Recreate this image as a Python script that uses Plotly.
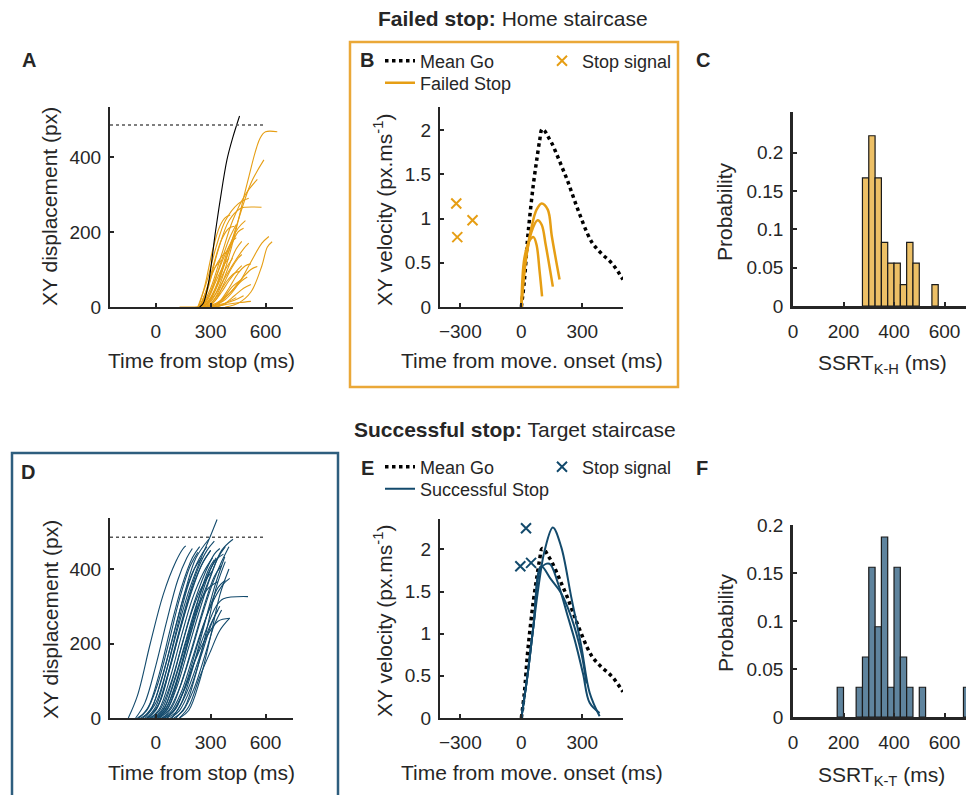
import plotly.graph_objects as go

# ---------------- DATA ----------------
# Panel A: failed-stop trajectories (time from stop, ms / displacement, px)
A_fail_t = [
    [130, 240, 300, 350, 420, 500, 570, 600, 664],
    [260, 320, 380, 450, 520, 591],
    [250, 300, 360, 420, 490, 555],
    [240, 290, 340, 400, 460, 490, 578],
    [230, 280, 330, 380, 450, 508],
    [235, 270, 310, 350, 380, 407],
    [300, 380, 450, 520, 580, 618],
    [380, 450, 520, 580, 610, 636],
    [270, 330, 400, 460, 520, 555],
    [260, 320, 380, 430, 480, 508],
    [250, 300, 350, 400, 440],
    [260, 320, 380, 430, 480],
    [280, 340, 400, 460, 520],
    [240, 280, 320, 360, 400, 430],
    [250, 290, 330, 370, 410, 440],
    [265, 300, 340, 380, 420],
    [245, 280, 310, 340, 370, 395],
    [280, 320, 360, 400, 440, 470],
    [300, 340, 380, 420, 460],
    [290, 330, 370, 410, 450, 470],
    [255, 290, 330, 370, 400],
    [310, 350, 400, 450, 490, 520],
    [320, 360, 400, 440],
    [260, 300, 350, 400, 450, 480],
    [270, 310, 350, 390, 430, 460],
    [275, 320, 360, 400, 450, 490],
    [300, 340, 380, 430, 470, 500],
    [285, 320, 360, 400, 440, 470],
    [240, 270, 300, 330, 360],
    [330, 380, 430, 480, 520],
]
A_fail_d = [
    [0, 2, 15, 60, 170, 330, 450, 467, 467],
    [0, 40, 120, 230, 330, 392],
    [0, 50, 140, 230, 300, 340],
    [0, 60, 150, 230, 262, 266, 266],
    [0, 70, 160, 230, 275, 290],
    [0, 60, 150, 215, 238, 245],
    [0, 20, 60, 120, 170, 188],
    [0, 10, 40, 110, 160, 174],
    [0, 10, 35, 70, 100, 108],
    [0, 30, 80, 120, 155, 170],
    [0, 40, 110, 180, 220],
    [0, 4, 10, 18, 30],
    [0, 3, 8, 12, 15],
    [0, 50, 120, 180, 210, 215],
    [0, 30, 80, 130, 170, 185],
    [0, 20, 60, 100, 130],
    [0, 40, 90, 120, 140, 150],
    [0, 15, 40, 70, 95, 110],
    [0, 10, 30, 55, 70],
    [0, 20, 60, 100, 130, 140],
    [0, 25, 70, 110, 130],
    [0, 15, 50, 90, 110, 115],
    [0, 5, 15, 25],
    [0, 25, 80, 150, 200, 210],
    [0, 15, 40, 70, 90, 95],
    [0, 40, 100, 160, 210, 230],
    [0, 8, 25, 50, 70, 80],
    [0, 20, 60, 110, 155, 175],
    [0, 35, 80, 110, 125],
    [0, 10, 30, 50, 60],
]
A_go_t = [240, 260, 288, 325, 352, 389, 420, 458]
A_go_d = [0, 10, 63, 196, 285, 392, 450, 509]

TARGET_X = [-250, 600]
TARGET_D = 485

# Panel D: successful-stop trajectories
D_succ_t = [
    [-150, -100, -30, 40, 110, 150, 164],
    [-110, -60, 0, 60, 120, 170, 200],
    [-90, -40, 20, 80, 140, 200, 240],
    [-70, -20, 40, 100, 160, 220, 290],
    [-60, 0, 60, 120, 180, 240, 300, 335],
    [-50, 0, 50, 110, 170, 230, 280, 320],
    [-40, 10, 70, 130, 190, 250, 300],
    [-30, 20, 80, 140, 200, 260, 310],
    [-20, 30, 90, 150, 210, 270, 320, 350],
    [-10, 40, 100, 160, 220, 280, 330, 370],
    [0, 50, 110, 170, 230, 290, 340, 380],
    [10, 60, 120, 180, 240, 300, 360, 422],
    [20, 70, 130, 190, 250, 310, 360, 400],
    [30, 80, 140, 200, 260, 320, 370, 404],
    [40, 90, 150, 210, 270, 330, 370, 504],
    [50, 100, 160, 220, 280, 340, 404],
    [60, 110, 170, 230, 290, 340],
    [-80, -30, 30, 90, 150, 210, 250],
    [0, 50, 110, 170, 230, 290, 340],
    [90, 140, 200, 260, 320, 377],
    [110, 160, 220, 280, 330, 380],
    [130, 180, 240, 300, 350, 400],
    [130, 180, 240, 300, 350, 404],
    [-40, 20, 80, 140, 200, 260, 300],
    [-100, -50, 10, 70, 130, 190, 230],
    [10, 60, 120, 180, 240, 290, 320],
    [40, 90, 150, 210, 270, 320, 360],
    [60, 110, 170, 230, 290, 340, 380],
    [80, 130, 190, 250, 310, 350],
    [-50, 0, 60, 120, 180, 240, 280],
    [20, 70, 130, 190, 250, 300, 330],
    [100, 150, 210, 270, 320, 360],
    [-30, 20, 80, 140, 200, 260, 310],
]
D_succ_d = [
    [0, 60, 200, 330, 420, 455, 462],
    [0, 40, 140, 260, 370, 430, 455],
    [0, 30, 120, 240, 350, 430, 460],
    [0, 30, 120, 230, 340, 430, 480],
    [0, 40, 130, 240, 340, 420, 490, 533],
    [0, 20, 90, 200, 310, 400, 450, 475],
    [0, 30, 120, 230, 330, 410, 450],
    [0, 25, 110, 220, 320, 390, 430],
    [0, 20, 100, 210, 310, 390, 440, 455],
    [0, 20, 100, 200, 300, 380, 425, 440],
    [0, 20, 90, 190, 290, 370, 430, 460],
    [0, 20, 90, 190, 290, 380, 450, 480],
    [0, 20, 80, 170, 270, 360, 420, 460],
    [0, 15, 70, 160, 250, 320, 360, 375],
    [0, 15, 70, 150, 230, 300, 320, 326],
    [0, 20, 80, 160, 220, 260, 268],
    [0, 15, 70, 150, 240, 290],
    [0, 20, 100, 210, 320, 400, 430],
    [0, 30, 110, 210, 300, 350, 366],
    [0, 40, 130, 240, 350, 433],
    [0, 30, 120, 240, 350, 420],
    [0, 20, 100, 220, 330, 400],
    [0, 30, 110, 180, 235, 268],
    [0, 40, 140, 250, 350, 420, 450],
    [0, 20, 90, 200, 320, 410, 445],
    [0, 30, 110, 220, 330, 400, 425],
    [0, 30, 110, 210, 310, 380, 410],
    [0, 25, 100, 200, 290, 350, 370],
    [0, 20, 80, 170, 260, 300],
    [0, 30, 130, 250, 360, 430, 460],
    [0, 30, 120, 230, 330, 400, 430],
    [0, 20, 80, 170, 250, 290],
    [0, 20, 90, 190, 290, 360, 395],
]

# Mean Go velocity (time from movement onset, ms / px.ms^-1)
go_vel_t = [0, 15, 30, 45, 60, 75, 90, 102, 115, 130, 150, 175, 200, 225, 250,
            275, 300, 325, 350, 375, 400, 425, 450, 475, 500]
go_vel_v = [0, 0.3, 0.75, 1.1, 1.4, 1.65, 1.88, 2.01, 1.99, 1.93, 1.85, 1.72, 1.58,
            1.44, 1.28, 1.12, 0.97, 0.83, 0.72, 0.65, 0.59, 0.54, 0.48, 0.4, 0.31]

# Panel B: failed stop velocities
B_fail_t = [
    [0, 20, 50, 75, 100, 130, 150, 188],
    [0, 20, 50, 80, 100, 120, 155],
    [0, 15, 40, 60, 75, 90, 102],
]
B_fail_v = [
    [0, 0.5, 0.9, 1.1, 1.17, 1.1, 0.8, 0.31],
    [0, 0.5, 0.85, 0.98, 0.93, 0.7, 0.23],
    [0, 0.55, 0.75, 0.79, 0.7, 0.4, 0.12],
]
B_stop_t = [-320, -315, -240]
B_stop_v = [1.17, 0.79, 0.98]

# Panel E: successful stop velocities
E_succ_t = [
    [0, 30, 60, 90, 114, 155, 196, 245, 295, 336, 385],
    [0, 30, 60, 97, 138, 180, 229, 262, 303, 336, 385],
    [0, 30, 60, 97, 147, 196, 245, 295, 320],
]
E_succ_v = [
    [0, 0.5, 1.1, 1.65, 1.98, 2.26, 2.03, 1.44, 0.85, 0.3, 0.02],
    [0, 0.5, 1.1, 1.78, 1.83, 1.6, 1.2, 0.93, 0.53, 0.18, 0.06],
    [0, 0.5, 1.1, 1.8, 1.64, 1.48, 1.2, 0.77, 0.41],
]
E_stop_t = [23, -5, 48]
E_stop_v = [2.25, 1.8, 1.84]

# Panel C / F: SSRT histograms (bin start, ms / probability)
BIN_W = 25
C_bins = [275, 300, 325, 350, 375, 400, 425, 450, 475, 550]
C_prob = [0.167, 0.222, 0.167, 0.083, 0.056, 0.056, 0.028, 0.083, 0.056, 0.028]
F_bins = [175, 250, 275, 300, 325, 350, 375, 400, 425, 450, 500, 675]
F_prob = [0.031, 0.031, 0.0625, 0.156, 0.094, 0.1875, 0.031, 0.156, 0.0625, 0.031, 0.031, 0.031]

# ---------------- STYLE ----------------
W, H = 966, 795
FONT = "Liberation Sans, Arial, Helvetica, sans-serif"
ORANGE = "#E69E14"
ORANGE_BOX = "#EAA838"
ORANGE_BAR = "#EDC066"
BLUE = "#134A6C"
BLUE_BOX = "#2E5E7E"
BLUE_BAR = "#5F849E"
AX = "#262626"
TICK_FS = 19
TITLE_FS = 21


def px_x(p):
    return p / W


def px_y(p):
    return 1 - p / H


fig = go.Figure()

# Panel A
for t, d in zip(A_fail_t, A_fail_d):
    fig.add_trace(go.Scatter(x=t, y=d, mode="lines", line=dict(color=ORANGE, width=1.1, shape="spline"),
                             showlegend=False, xaxis="x", yaxis="y", hoverinfo="skip"))
fig.add_trace(go.Scatter(x=A_go_t, y=A_go_d, mode="lines", line=dict(color="black", width=1.1, shape="spline"),
                         showlegend=False, xaxis="x", yaxis="y"))
fig.add_trace(go.Scatter(x=TARGET_X, y=[TARGET_D, TARGET_D], mode="lines",
                         line=dict(color="#555555", width=1.5, dash="dot"), showlegend=False, xaxis="x", yaxis="y"))

# Panel D
for t, d in zip(D_succ_t, D_succ_d):
    fig.add_trace(go.Scatter(x=t, y=d, mode="lines", line=dict(color=BLUE, width=1.1, shape="spline"),
                             showlegend=False, xaxis="x4", yaxis="y4", hoverinfo="skip"))
fig.add_trace(go.Scatter(x=TARGET_X, y=[TARGET_D, TARGET_D], mode="lines",
                         line=dict(color="#555555", width=1.5, dash="dot"), showlegend=False, xaxis="x4", yaxis="y4"))

# Panel B
fig.add_trace(go.Scatter(x=go_vel_t, y=go_vel_v, mode="lines", name="Mean Go",
                         line=dict(color="black", width=3.5, dash="dot", shape="spline"),
                         xaxis="x2", yaxis="y2", legend="legend"))
for i, (t, v) in enumerate(zip(B_fail_t, B_fail_v)):
    fig.add_trace(go.Scatter(x=t, y=v, mode="lines", name="Failed Stop", legendgroup="fs",
                             showlegend=(i == 0), line=dict(color=ORANGE, width=2.5, shape="spline"),
                             xaxis="x2", yaxis="y2", legend="legend3"))
fig.add_trace(go.Scatter(x=B_stop_t, y=B_stop_v, mode="markers", name="Stop signal",
                         marker=dict(symbol="x-thin", size=10, line=dict(color=ORANGE, width=2)),
                         xaxis="x2", yaxis="y2", legend="legend2"))

# Panel E
fig.add_trace(go.Scatter(x=go_vel_t, y=go_vel_v, mode="lines", name="Mean Go",
                         line=dict(color="black", width=3.5, dash="dot", shape="spline"),
                         xaxis="x5", yaxis="y5", legend="legend4"))
for i, (t, v) in enumerate(zip(E_succ_t, E_succ_v)):
    fig.add_trace(go.Scatter(x=t, y=v, mode="lines", name="Successful Stop", legendgroup="ss",
                             showlegend=(i == 0), line=dict(color=BLUE, width=2, shape="spline"),
                             xaxis="x5", yaxis="y5", legend="legend6"))
fig.add_trace(go.Scatter(x=E_stop_t, y=E_stop_v, mode="markers", name="Stop signal",
                         marker=dict(symbol="x-thin", size=10, line=dict(color=BLUE, width=2)),
                         xaxis="x5", yaxis="y5", legend="legend5"))

# Panel C / F histograms
fig.add_trace(go.Bar(x=[b + BIN_W / 2 for b in C_bins], y=C_prob, width=BIN_W,
                     marker=dict(color=ORANGE_BAR, line=dict(color="#1a1a1a", width=1.2)),
                     showlegend=False, xaxis="x3", yaxis="y3"))
fig.add_trace(go.Bar(x=[b + BIN_W / 2 for b in F_bins], y=F_prob, width=BIN_W,
                     marker=dict(color=BLUE_BAR, line=dict(color="#1a1a1a", width=1.2)),
                     showlegend=False, xaxis="x6", yaxis="y6"))


def axis(dom, rng, tickvals, ticktext=None, anchor=None, standoff=4, lw=2):
    d = dict(domain=dom, range=rng, tickvals=tickvals, showline=True, linecolor=AX, linewidth=lw,
             ticks="inside", ticklen=4, tickwidth=1.5, tickcolor=AX, showgrid=False, zeroline=False,
             tickfont=dict(size=TICK_FS, color=AX, family=FONT), anchor=anchor, fixedrange=True,
             ticklabelstandoff=standoff, automargin=False)
    if ticktext is not None:
        d["ticktext"] = ticktext
    return d


xA = [px_x(110), px_x(293)]
xB = [px_x(440), px_x(623)]
xC = [px_x(793), 1.0]
yTop = [px_y(307), px_y(107)]
yC = [px_y(306), px_y(112)]
yD = [px_y(718), px_y(518)]
yE = [px_y(718), px_y(519)]
yF = [px_y(717), px_y(525)]

vel_ticks = [0, 0.5, 1, 1.5, 2]
vel_text = ["0", "0.5", "1", "1.5", "2"]
prob_ticks = [0, 0.05, 0.1, 0.15, 0.2]
prob_text = ["0", "0.05", "0.1", "0.15", "0.2"]

XS, YS = 6, 3
leg_font = dict(size=18, family=FONT, color=AX)


def legend_at(x, y):
    return dict(x=px_x(x), y=px_y(y), xanchor="left", yanchor="middle", bgcolor="rgba(0,0,0,0)",
                font=leg_font, itemwidth=30, borderwidth=0)


fig.update_layout(
    template="none",
    autosize=False,
    width=W, height=H, margin=dict(l=0, r=0, t=0, b=0, autoexpand=False),
    paper_bgcolor="white", plot_bgcolor="white",
    font=dict(family=FONT, color=AX),
    barmode="overlay",
    xaxis=axis(xA, [-250, 750], [0, 300, 600], anchor="y", standoff=XS),
    yaxis=axis(yTop, [0, 533], [0, 200, 400], anchor="x", standoff=YS),
    xaxis2=axis(xB, [-400, 500], [-300, 0, 300], anchor="y2", standoff=XS),
    yaxis2=axis(yTop, [0, 2.26], vel_ticks, vel_text, anchor="x2", standoff=YS),
    xaxis3=axis(xC, [0, 685], [0, 200, 400, 600], anchor="y3", standoff=XS, lw=2.5),
    yaxis3=axis(yC, [0, 0.253], prob_ticks, prob_text, anchor="x3", standoff=YS, lw=2.5),
    xaxis4=axis(xA, [-250, 750], [0, 300, 600], anchor="y4", standoff=XS),
    yaxis4=axis(yD, [0, 537], [0, 200, 400], anchor="x4", standoff=YS),
    xaxis5=axis(xB, [-400, 500], [-300, 0, 300], anchor="y5", standoff=XS),
    yaxis5=axis(yE, [0, 2.36], vel_ticks, vel_text, anchor="x5", standoff=YS),
    xaxis6=axis(xC, [0, 685], [0, 200, 400, 600], anchor="y6", standoff=XS, lw=2.5),
    yaxis6=axis(yF, [0, 0.2], prob_ticks, prob_text, anchor="x6", standoff=YS, lw=2.5),
    legend=legend_at(380, 61),
    legend2=legend_at(542, 61),
    legend3=legend_at(380, 83),
    legend4=legend_at(380, 467),
    legend5=legend_at(542, 467),
    legend6=legend_at(380, 489),
)

# Panel boxes
fig.add_shape(type="rect", xref="paper", yref="paper", x0=px_x(350), x1=px_x(678), y0=px_y(387), y1=px_y(42),
              line=dict(color=ORANGE_BOX, width=2.5))
fig.add_shape(type="rect", xref="paper", yref="paper", x0=px_x(12), x1=px_x(338), y0=px_y(810), y1=px_y(453),
              line=dict(color=BLUE_BOX, width=2.5))

ann = []


def text(x, y, s, size=TITLE_FS, angle=0, bold=False):
    ann.append(dict(x=px_x(x), y=px_y(y), xref="paper", yref="paper", text=(f"<b>{s}</b>" if bold else s),
                    showarrow=False, textangle=angle, font=dict(size=size, family=FONT, color=AX),
                    xanchor="center", yanchor="middle"))


text(513, 19, "<b>Failed stop:</b> Home staircase", size=21)
text(515, 429, "<b>Successful stop:</b> Target staircase", size=21)
for lab, x, y in [("A", 29, 60), ("B", 367, 60), ("C", 703, 60), ("D", 28, 472), ("E", 367, 468), ("F", 702, 468)]:
    text(x, y, lab, size=20, bold=True)

text(50, 207, "XY displacement (px)", angle=-90)
text(201, 360, "Time from stop (ms)")
text(383, 210, "XY velocity (px.ms<sup>-1</sup>)", angle=-90)
text(532, 360, "Time from move. onset (ms)")
text(725, 212, "Probability", angle=-90)
text(882, 364, "SSRT<sub>K-H</sub> (ms)")
text(50, 620, "XY displacement (px)", angle=-90)
text(201, 772, "Time from stop (ms)")
text(383, 621, "XY velocity (px.ms<sup>-1</sup>)", angle=-90)
text(532, 772, "Time from move. onset (ms)")
text(725, 623, "Probability", angle=-90)
text(881, 776, "SSRT<sub>K-T</sub> (ms)")
fig.update_layout(annotations=ann)

fig.write_html("out.html", config={"responsive": False, "displayModeBar": False},
               post_script="document.body.style.margin='0';document.body.style.overflow='hidden';")
